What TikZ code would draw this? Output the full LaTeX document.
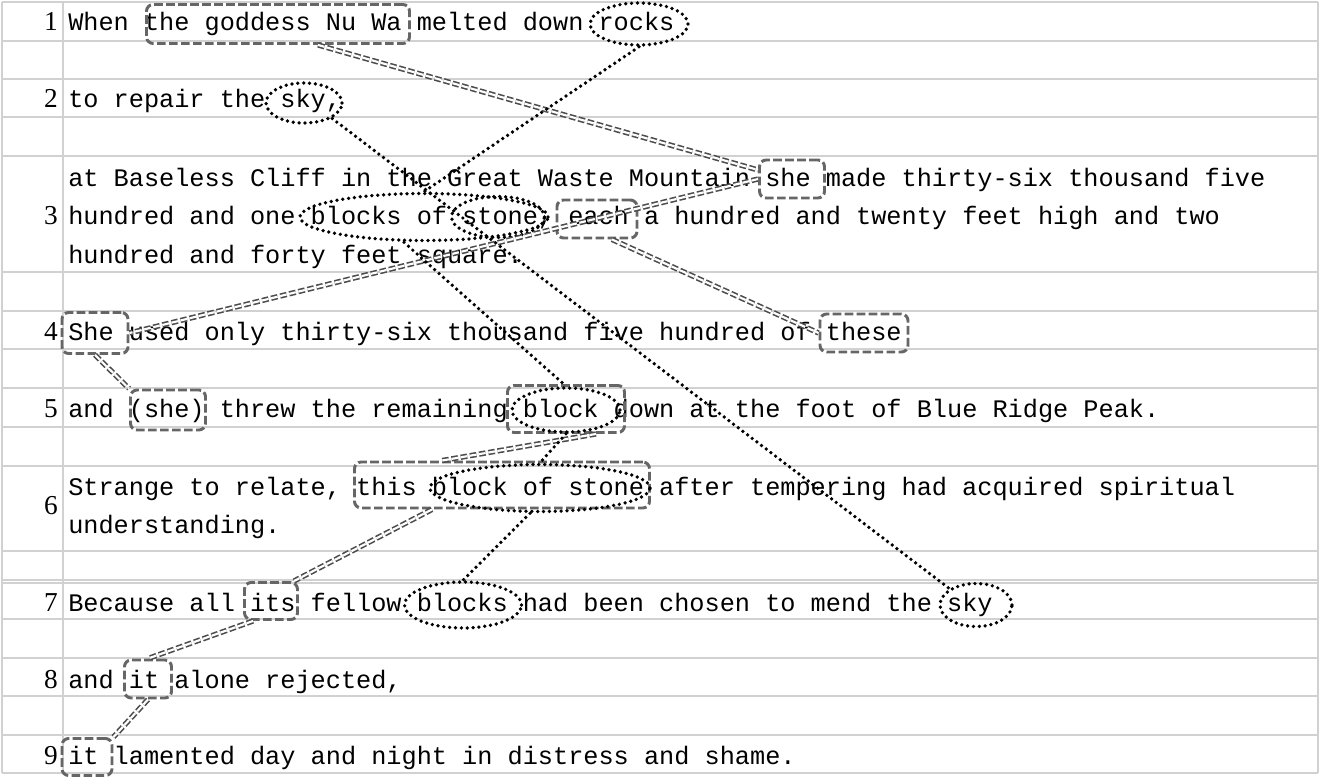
\documentclass[tikz,border=0pt]{standalone}
\usepackage{fontspec}
\setmonofont{Liberation Mono}
\setmainfont{Liberation Serif}
\usetikzlibrary{shapes.geometric,calc}
\def\u{0.75pt}
\tikzset{
  grid/.style={draw=black!18,line width=1.2pt},
  txt/.style={anchor=base west,inner sep=0pt,font=\ttfamily\fontsize{18.94pt}{20pt}\selectfont},
  num/.style={anchor=base east,inner sep=0pt,font=\fontsize{20.5pt}{21pt}\selectfont},
  box/.style={draw=black!60,line width=2.2pt,dash pattern=on 6.5pt off 2.5pt,rounded corners=5pt,inner sep=0pt},
  ell/.style={ellipse,draw=black,line width=2.8pt,dash pattern=on 0pt off 4.4pt,line cap=round,inner sep=0pt},
  dlink/.style={draw=black!70,double=white,double distance=1.6pt,line width=1.2pt,dash pattern=on 5pt off 2pt},
  olink/.style={draw=black,line width=2.8pt,dash pattern=on 0pt off 4.4pt,line cap=round},
}
\begin{document}
\begin{tikzpicture}[x=0.75pt,y=-0.75pt]
\useasboundingbox (0,0) rectangle (1320,777);
\fill[white] (0,0) rectangle (1320,777);
% grid
\foreach \y in {2,41,79,117,156,272,311,349,388,427,466,551,580,583,619,658,696,735,773}
  \draw[grid] (2,\y) -- (1318,\y);
\draw[grid] (2,2) -- (2,773);
\draw[grid] (63,2) -- (63,773);
\draw[grid] (1318,2) -- (1318,773);
% numbers
\node[num] (n1) at (58,31) {1};
\node[num] (n2) at (58,108) {2};
\node[num] (n3) at (58,225) {3};
\node[num] (n4) at (58,340) {4};
\node[num] (n5) at (58,417) {5};
\node[num] (n6) at (58,514) {6};
\node[num] (n7) at (58,611) {7};
\node[num] (n8) at (58,688) {8};
\node[num] (n9) at (58,764) {9};
% text
\node[txt] (t1) at (68,31) {When the goddess Nu Wa melted down rocks};
\node[txt] (t2) at (68,108) {to repair the sky,};
\node[txt] (t3a) at (68,187) {at Baseless Cliff in the Great Waste Mountain she made thirty-six thousand five};
\node[txt] (t3b) at (68,225) {hundred and one blocks of stone, each a hundred and twenty feet high and two};
\node[txt] (t3c) at (68,263) {hundred and forty feet square.};
\node[txt] (t4) at (68,340) {She used only thirty-six thousand five hundred of these};
\node[txt] (t5) at (68,417) {and (she) threw the remaining block down at the foot of Blue Ridge Peak.};
\node[txt] (t6a) at (68,495) {Strange to relate, this block of stone after tempering had acquired spiritual};
\node[txt] (t6b) at (68,533) {understanding.};
\node[txt] (t7) at (68,611) {Because all its fellow blocks had been chosen to mend the sky};
\node[txt] (t8) at (68,688) {and it alone rejected,};
\node[txt] (t9) at (68,764) {it lamented day and night in distress and shame.};
% boxes
\node[box,minimum width=263*\u,minimum height=39*\u] (g) at (278,24) {};
\node[box,minimum width=65*\u,minimum height=38*\u] (she3) at (792,179) {};
\node[box,minimum width=80*\u,minimum height=38*\u] (each) at (597,219) {};
\node[box,minimum width=66*\u,minimum height=41*\u] (She4) at (95,333) {};
\node[box,minimum width=88*\u,minimum height=38*\u] (these) at (864,333) {};
\node[box,minimum width=75*\u,minimum height=40*\u] (she5) at (168,410) {};
\node[box,minimum width=117*\u,minimum height=47*\u] (block5) at (566,409) {};
\node[box,minimum width=295*\u,minimum height=46*\u] (this6) at (502,485) {};
\node[box,minimum width=53*\u,minimum height=37*\u] (its7) at (271,601) {};
\node[box,minimum width=47*\u,minimum height=38*\u] (it8) at (148,679) {};
\node[box,minimum width=50*\u,minimum height=37*\u] (it9) at (87,757) {};
% ellipses
\node[ell,minimum width=98*\u,minimum height=42*\u] (rocks) at (639,24) {};
\node[ell,minimum width=76*\u,minimum height=40*\u] (sky2) at (304,103) {};
\node[ell,minimum width=248*\u,minimum height=47*\u] (bos) at (424,217) {};
\node[ell,minimum width=93*\u,minimum height=41*\u] (stone) at (498,217) {};
\node[ell,minimum width=108*\u,minimum height=44*\u] (b5e) at (566,410) {};
\node[ell,minimum width=220*\u,minimum height=47*\u] (bos6) at (540,488) {};
\node[ell,minimum width=117*\u,minimum height=46*\u] (blocks7) at (463,605) {};
\node[ell,minimum width=72*\u,minimum height=43*\u] (sky7) at (976,605) {};
% double dashed links
\draw[dlink] ($(g.south)+(40,0)$) -- ($(she3.west)+(0,-9)$);
\draw[dlink] (she3.west) -- (She4.east);
\draw[dlink] ($(each.south)+(15,0)$) -- (these.west);
\draw[dlink] (She4.south) -- (she5.north west);
\draw[dlink] ($(block5.south)+(30,0)$) -- ($(this6.north)+(-60,0)$);
\draw[dlink] ($(this6.south)+(-70,0)$) -- ($(its7.north east)+(-5,0)$);
\draw[dlink] ($(its7.south west)+(10,0)$) -- (it8.north);
\draw[dlink] (it8.south) -- (it9.north east);
% dotted links
\draw[olink] (rocks.south) -- (bos.north);
\draw[olink] (sky2.south east) -- (sky7.north west);
\draw[olink] ($(bos.south)+(-20,0)$) -- (b5e.north);
\draw[olink] (b5e.south) -- (bos6.north);
\draw[olink] ($(bos6.south)+(-10,0)$) -- (blocks7.north);
\end{tikzpicture}
\end{document}
